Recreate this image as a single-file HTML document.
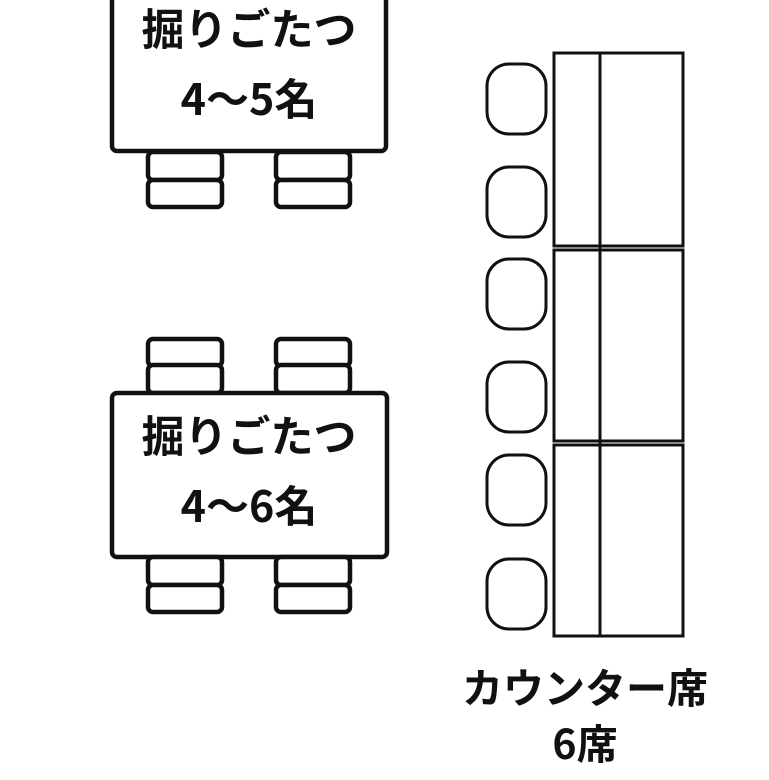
<!DOCTYPE html>
<html><head><meta charset="utf-8"><style>
html,body{margin:0;padding:0;background:#fff;width:769px;height:780px;overflow:hidden}
svg text{font-family:"Noto Sans CJK JP","Liberation Sans",sans-serif;font-weight:bold;fill:#111}
</style></head><body>
<svg width="769" height="780" viewBox="0 0 769 780" xmlns="http://www.w3.org/2000/svg">
<g fill="#fff" stroke="#111" stroke-width="4.5">
<rect x="112" y="-20" width="274" height="171" rx="5"/>
<rect x="148" y="152" width="74" height="28" rx="5"/>
<rect x="148" y="180" width="74" height="27" rx="5"/>
<rect x="276" y="152" width="74" height="28" rx="5"/>
<rect x="276" y="180" width="74" height="27" rx="5"/>
<rect x="148" y="339" width="74" height="27" rx="5"/>
<rect x="148" y="365" width="74" height="28" rx="5"/>
<rect x="276" y="339" width="74" height="27" rx="5"/>
<rect x="276" y="365" width="74" height="28" rx="5"/>
<rect x="112" y="393" width="275" height="164" rx="5"/>
<rect x="148" y="557" width="74" height="28" rx="5"/>
<rect x="148" y="585" width="74" height="27" rx="5"/>
<rect x="276" y="557" width="74" height="28" rx="5"/>
<rect x="276" y="585" width="74" height="27" rx="5"/>
</g>
<g fill="#fff" stroke="#111" stroke-width="3">
<rect x="487" y="64" width="59" height="70" rx="22"/>
<rect x="487" y="167" width="59" height="70" rx="22"/>
<rect x="487" y="259" width="59" height="70" rx="22"/>
<rect x="487" y="362" width="59" height="70" rx="22"/>
<rect x="487" y="455" width="59" height="70" rx="22"/>
<rect x="487" y="559" width="59" height="70" rx="22"/>
<rect x="554" y="53" width="129" height="193"/>
<rect x="554" y="250" width="129" height="191"/>
<rect x="554" y="445" width="129" height="191"/>
<line x1="600" y1="53" x2="600" y2="636"/>
</g>
<g text-anchor="middle">
<text x="249" y="45" font-size="43">掘りごたつ</text>
<text x="249" y="115" font-size="43">4～5名</text>
<text x="249" y="452" font-size="43">掘りごたつ</text>
<text x="249" y="522" font-size="43">4～6名</text>
<text x="585" y="703" font-size="41">カウンター席</text>
<text x="585" y="759" font-size="41">6席</text>
</g>
</svg>
</body></html>
